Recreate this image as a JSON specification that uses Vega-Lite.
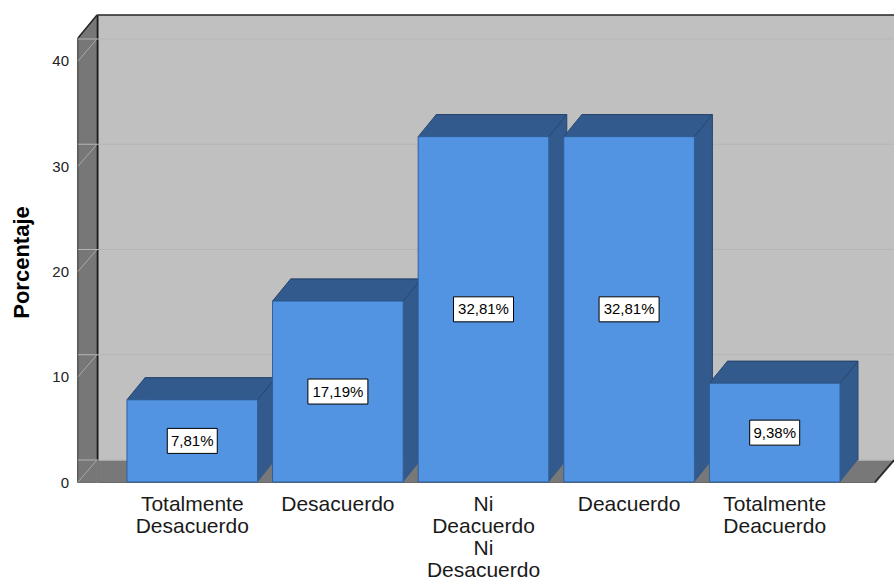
{
  "$schema": "https://vega.github.io/schema/vega-lite/v6.json",
  "width": 817,
  "height": 467,
  "autosize": {"type": "none"},
  "padding": {"left": 78, "top": 15, "right": 0, "bottom": 102},
  "background": "white",
  "config": {
    "font": "Liberation Sans",
    "view": {"fill": "#c0c0c0", "stroke": "#262626", "strokeWidth": 1.5},
    "locale": {"number": {"decimal": ",", "thousands": ".", "grouping": [3], "currency": ["", "%"]}}
  },
  "datasets": {
    "pct": [
      {"cat": "Totalmente Desacuerdo", "pct": 7.81},
      {"cat": "Desacuerdo", "pct": 17.19},
      {"cat": "Ni Deacuerdo Ni Desacuerdo", "pct": 32.81},
      {"cat": "Deacuerdo", "pct": 32.81},
      {"cat": "Totalmente Deacuerdo", "pct": 9.38}
    ],
    "grid": [{"v": 0}, {"v": 10}, {"v": 20}, {"v": 30}, {"v": 40}]
  },
  "resolve": {"scale": {"y": "independent"}, "axis": {"x": "independent", "y": "independent"}},
  "layer": [
    {
      "resolve": {"axis": {"x": "independent", "y": "independent"}},
      "layer": [
        {
          "data": {"name": "grid"},
          "mark": {"type": "rule", "color": "#b5b5b5", "strokeWidth": 1, "xOffset": 19, "x2Offset": 19, "yOffset": -22},
          "encoding": {
            "y": {
              "field": "v", "type": "quantitative",
              "scale": {"domain": [0, 44.37], "nice": false, "zero": true},
              "axis": {
                "orient": "left", "offset": -9, "values": [0, 10, 20, 30, 40],
                "domain": true, "domainColor": "#777777", "domainWidth": 18,
                "ticks": false, "tickSize": 0, "grid": false,
                "labelPadding": 18.5, "labelFontSize": 15, "labelColor": "#222222",
                "title": "Porcentaje", "titleFontSize": 22, "titleFontWeight": "bold",
                "titleColor": "#000000", "titlePadding": 18, "titleY": 247
              }
            }
          }
        },
        {
          "data": {"name": "pct"},
          "transform": [{"filter": "datum.cat == 'Totalmente Desacuerdo'"}],
          "mark": {"type": "point", "shape": "M-31.5,1L-28,1L-28,-21.2L-31.5,-21.2Z", "size": 4, "filled": true, "color": "#787878", "opacity": 1, "strokeWidth": 0},
          "encoding": {
            "x": {"field": "cat", "type": "nominal", "bandPosition": 0, "scale": {"type": "band", "domain": ["Totalmente Desacuerdo", "Desacuerdo", "Ni Deacuerdo Ni Desacuerdo", "Deacuerdo", "Totalmente Deacuerdo"], "paddingInner": 0.103, "paddingOuter": 0.357, "align": 0.471}, "axis": null},
            "y": {"datum": 0, "type": "quantitative", "scale": {"domain": [0, 44.37], "nice": false, "zero": true}, "axis": null}
          }
        },
        {
          "data": {"name": "grid"},
          "mark": {"type": "point", "shape": "M-48.96,0L-29.96,-22", "size": 4, "filled": false, "fill": null, "stroke": "#a9a9a9", "strokeWidth": 1, "opacity": 1},
          "encoding": {
            "x": {"datum": "Totalmente Desacuerdo", "bandPosition": 0, "scale": {"type": "band", "domain": ["Totalmente Desacuerdo", "Desacuerdo", "Ni Deacuerdo Ni Desacuerdo", "Deacuerdo", "Totalmente Deacuerdo"], "paddingInner": 0.103, "paddingOuter": 0.357, "align": 0.471}, "axis": null},
            "y": {"field": "v", "type": "quantitative", "scale": {"domain": [0, 44.37], "nice": false, "zero": true}, "axis": null}
          }
        },
        {
          "data": {"name": "pct"},
          "transform": [{"filter": "datum.cat == 'Totalmente Desacuerdo'"}],
          "mark": {"type": "point", "shape": "M-50.5,-1L-29.5,-1L-50.5,24.2Z", "size": 4, "filled": true, "color": "white", "opacity": 1, "strokeWidth": 0},
          "encoding": {
            "x": {"field": "cat", "type": "nominal", "bandPosition": 0, "scale": {"type": "band", "domain": ["Totalmente Desacuerdo", "Desacuerdo", "Ni Deacuerdo Ni Desacuerdo", "Deacuerdo", "Totalmente Deacuerdo"], "paddingInner": 0.103, "paddingOuter": 0.357, "align": 0.471}, "axis": null},
            "y": {"datum": 44.37, "type": "quantitative", "scale": {"domain": [0, 44.37], "nice": false, "zero": true}, "axis": null}
          }
        },
        {
          "data": {"name": "pct"},
          "transform": [{"filter": "datum.cat == 'Totalmente Desacuerdo'"}],
          "mark": {"type": "point", "shape": "M-48.96,23L-29.96,0", "size": 4, "filled": false, "fill": null, "stroke": "#262626", "strokeWidth": 1.5, "opacity": 1},
          "encoding": {
            "x": {"field": "cat", "type": "nominal", "bandPosition": 0, "scale": {"type": "band", "domain": ["Totalmente Desacuerdo", "Desacuerdo", "Ni Deacuerdo Ni Desacuerdo", "Deacuerdo", "Totalmente Deacuerdo"], "paddingInner": 0.103, "paddingOuter": 0.357, "align": 0.471}, "axis": null},
            "y": {"datum": 44.37, "type": "quantitative", "scale": {"domain": [0, 44.37], "nice": false, "zero": true}, "axis": null}
          }
        },
        {
          "data": {"name": "pct"},
          "transform": [{"filter": "datum.cat == 'Totalmente Deacuerdo'"}],
          "mark": {"type": "point", "shape": "M35,2L55,-21.5L60,-21.5L60,2Z", "size": 4, "filled": true, "color": "white", "opacity": 1, "strokeWidth": 0},
          "encoding": {
            "x": {"field": "cat", "type": "nominal", "bandPosition": 1, "scale": {"type": "band", "domain": ["Totalmente Desacuerdo", "Desacuerdo", "Ni Deacuerdo Ni Desacuerdo", "Deacuerdo", "Totalmente Deacuerdo"], "paddingInner": 0.103, "paddingOuter": 0.357, "align": 0.471}, "axis": null},
            "y": {"datum": 0, "type": "quantitative", "scale": {"domain": [0, 44.37], "nice": false, "zero": true}, "axis": null}
          }
        },
        {
          "data": {"name": "pct"},
          "transform": [{"filter": "datum.cat == 'Totalmente Deacuerdo'"}],
          "mark": {"type": "point", "shape": "M35,0L54,-22", "size": 4, "filled": false, "fill": null, "stroke": "#262626", "strokeWidth": 1.5, "opacity": 1},
          "encoding": {
            "x": {"field": "cat", "type": "nominal", "bandPosition": 1, "scale": {"type": "band", "domain": ["Totalmente Desacuerdo", "Desacuerdo", "Ni Deacuerdo Ni Desacuerdo", "Deacuerdo", "Totalmente Deacuerdo"], "paddingInner": 0.103, "paddingOuter": 0.357, "align": 0.471}, "axis": null},
            "y": {"datum": 0, "type": "quantitative", "scale": {"domain": [0, 44.37], "nice": false, "zero": true}, "axis": null}
          }
        },
        {
          "data": {"name": "pct"},
          "mark": {"type": "bar", "color": "#335a8c", "stroke": "#26466e", "strokeWidth": 1, "xOffset": 18, "yOffset": -22, "y2Offset": -22},
          "encoding": {
            "x": {"field": "cat", "type": "nominal", "scale": {"type": "band", "domain": ["Totalmente Desacuerdo", "Desacuerdo", "Ni Deacuerdo Ni Desacuerdo", "Deacuerdo", "Totalmente Deacuerdo"], "paddingInner": 0.103, "paddingOuter": 0.357, "align": 0.471}, "axis": null},
            "y": {"field": "pct", "type": "quantitative", "scale": {"domain": [0, 44.37], "nice": false, "zero": true}, "axis": null}
          }
        },
        {
          "data": {"name": "pct"},
          "mark": {"type": "point", "shape": "M0,0L0,-23L18.5,-23Z", "size": 4, "filled": true, "color": "#335a8c", "opacity": 1, "strokeWidth": 0},
          "encoding": {
            "x": {"field": "cat", "type": "nominal", "bandPosition": 1, "scale": {"type": "band", "domain": ["Totalmente Desacuerdo", "Desacuerdo", "Ni Deacuerdo Ni Desacuerdo", "Deacuerdo", "Totalmente Deacuerdo"], "paddingInner": 0.103, "paddingOuter": 0.357, "align": 0.471}, "axis": null},
            "y": {"datum": 0, "type": "quantitative", "scale": {"domain": [0, 44.37], "nice": false, "zero": true}, "axis": null}
          }
        },
        {
          "data": {"name": "pct"},
          "mark": {"type": "point", "shape": "M0,0L18,-22L148.6,-22L130.6,0Z", "size": 4, "filled": true, "fill": "#335a8c", "stroke": "#26466e", "strokeWidth": 1, "opacity": 1},
          "encoding": {
            "x": {"field": "cat", "type": "nominal", "bandPosition": 0, "scale": {"type": "band", "domain": ["Totalmente Desacuerdo", "Desacuerdo", "Ni Deacuerdo Ni Desacuerdo", "Deacuerdo", "Totalmente Deacuerdo"], "paddingInner": 0.103, "paddingOuter": 0.357, "align": 0.471}, "axis": null},
            "y": {"field": "pct", "type": "quantitative", "scale": {"domain": [0, 44.37], "nice": false, "zero": true}, "axis": null}
          }
        },
        {
          "data": {"name": "pct"},
          "mark": {"type": "bar", "color": "#5394e2", "stroke": "#2f5f99", "strokeWidth": 1},
          "encoding": {
            "x": {
              "field": "cat", "type": "nominal",
              "scale": {"type": "band", "domain": ["Totalmente Desacuerdo", "Desacuerdo", "Ni Deacuerdo Ni Desacuerdo", "Deacuerdo", "Totalmente Deacuerdo"], "paddingInner": 0.103, "paddingOuter": 0.357, "align": 0.471},
              "axis": {
                "orient": "bottom", "offset": -11, "domain": true, "domainColor": "#787878", "domainWidth": 22,
                "ticks": false, "tickSize": 0, "grid": false,
                "labelPadding": 22.5, "labelFontSize": 21, "labelColor": "#1a1a1a", "labelLineHeight": 22,
                "labelAngle": 0, "labelLimit": 0, "labelAlign": "center", "labelBaseline": "top",
                "labelExpr": "split(datum.label, ' ')", "title": null
              }
            },
            "y": {
              "field": "pct", "type": "quantitative",
              "scale": {"domain": [0, 44.37], "nice": false, "zero": true},
              "axis": {"orient": "left", "offset": -19, "domain": true, "domainColor": "#1a1a1a", "domainWidth": 2, "ticks": false, "labels": false, "grid": false, "title": null}
            }
          }
        }
      ]
    },
    {
      "data": {"name": "pct"},
      "layer": [
        {
          "mark": {"type": "point", "size": 4, "filled": true, "fill": "white", "stroke": "#000000", "strokeWidth": 1, "opacity": 1},
          "encoding": {
            "x": {"field": "cat", "type": "nominal", "scale": {"type": "band", "domain": ["Totalmente Desacuerdo", "Desacuerdo", "Ni Deacuerdo Ni Desacuerdo", "Deacuerdo", "Totalmente Deacuerdo"], "paddingInner": 0.103, "paddingOuter": 0.357, "align": 0.471}, "axis": null},
            "y": {"field": "pct", "type": "quantitative", "scale": {"domain": [0, 88.74], "nice": false, "zero": true}, "axis": null},
            "shape": {"condition": {"test": "datum.pct < 10", "value": "M-25,-12.5L25,-12.5L25,12.5L-25,12.5Z"}, "value": "M-30,-12.5L30,-12.5L30,12.5L-30,12.5Z"}
          }
        },
        {
          "mark": {"type": "text", "fontSize": 15, "color": "#000000", "baseline": "middle", "align": "center"},
          "encoding": {
            "x": {"field": "cat", "type": "nominal", "scale": {"type": "band", "domain": ["Totalmente Desacuerdo", "Desacuerdo", "Ni Deacuerdo Ni Desacuerdo", "Deacuerdo", "Totalmente Deacuerdo"], "paddingInner": 0.103, "paddingOuter": 0.357, "align": 0.471}, "axis": null},
            "y": {"field": "pct", "type": "quantitative", "scale": {"domain": [0, 88.74], "nice": false, "zero": true}, "axis": null},
            "text": {"field": "pct", "type": "quantitative", "format": "$.2f"}
          }
        }
      ]
    }
  ]
}
